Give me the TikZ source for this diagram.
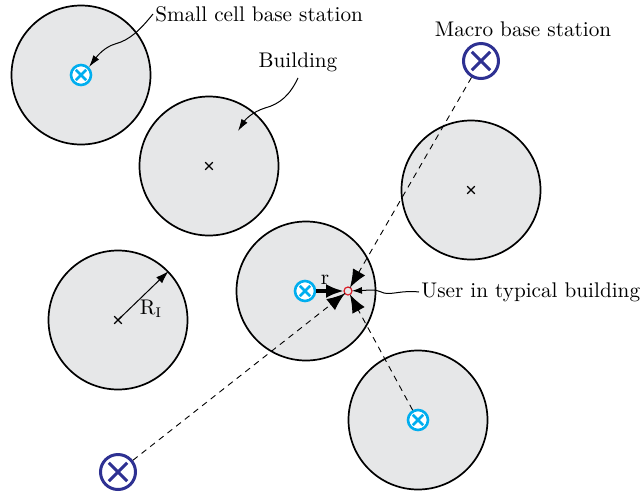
\documentclass[tikz,border=0pt]{standalone}
\usetikzlibrary{arrows.meta,calc,shapes.misc}
\definecolor{bgray}{RGB}{230,231,232}
\definecolor{scblue}{RGB}{0,174,239}
\definecolor{mblue}{RGB}{46,49,146}
\definecolor{ured}{RGB}{220,30,40}
\begin{document}
\begin{tikzpicture}[x=0.5pt,y=-0.5pt,
  bldg/.style={circle,draw=black,fill=bgray,line width=0.85pt,minimum size=69.5pt,inner sep=0pt},
  ctrx/.style={cross out,draw=black,line width=0.6pt,minimum size=3.2pt,inner sep=0pt},
  smallbs/.style={circle,draw=scblue,fill=white,line width=1.3pt,minimum size=10pt,inner sep=0pt,
    path picture={\draw[scblue,line width=1.3pt]
      ($(path picture bounding box.center)+(-2.6pt,-2.6pt)$) -- ($(path picture bounding box.center)+(2.6pt,2.6pt)$)
      ($(path picture bounding box.center)+(-2.6pt,2.6pt)$) -- ($(path picture bounding box.center)+(2.6pt,-2.6pt)$);}},
  macrobs/.style={circle,draw=mblue,fill=white,line width=1.5pt,minimum size=17.5pt,inner sep=0pt,
    path picture={\draw[mblue,line width=1.5pt]
      ($(path picture bounding box.center)+(-4.6pt,-4.6pt)$) -- ($(path picture bounding box.center)+(4.6pt,4.6pt)$)
      ($(path picture bounding box.center)+(-4.6pt,4.6pt)$) -- ($(path picture bounding box.center)+(4.6pt,-4.6pt)$);}},
  userpt/.style={circle,draw=ured,line width=0.6pt,minimum size=4pt,inner sep=0pt,outer sep=0pt},
  link/.style={dashed,line width=0.45pt,dash pattern=on 3pt off 2.5pt},
  bigtip/.style={-{Latex[length=9pt,width=7pt]},line width=0.5pt},
  leader/.style={line width=0.5pt,-{Latex[length=6pt,width=3.6pt]}},
  lbl/.style={font=\fontsize{10.6}{12}\selectfont,inner sep=1pt}
]
\useasboundingbox (0,0) rectangle (643,494);

% buildings
\node[bldg] (b1) at (81,75) {};
\node[bldg] (b2) at (209,166) {};
\node[bldg] (b3) at (471,190) {};
\node[bldg] (b4) at (118,320) {};
\node[bldg] (b5) at (306,291) {};
\node[bldg] (b6) at (418,420) {};

% building centre marks
\node[ctrx] (x2) at (209,166) {};
\node[ctrx] (x3) at (471,190) {};
\node[ctrx] (x4) at (118,320) {};

% user
\node[userpt] (u) at (348,291) {};

% base stations
\node[macrobs] (m1) at (481,61) {};
\node[macrobs] (m2) at (118,472) {};
\node[smallbs] (s1) at (81,75) {};
\node[smallbs] (s2) at (305,291) {};
\node[smallbs] (s3) at (418,420) {};

% dashed links
\draw[link] (m1) -- (u);
\draw[link] (m2) -- (u);
\draw[link] (s3) -- (u);

% arrowheads at the user
\draw[bigtip] ($(u)!11pt!(m1)$) -- (u);
\draw[bigtip] ($(u)!11pt!(m2)$) -- (u);
\draw[bigtip] ($(u)!11pt!(s3)$) -- (u);
\draw[bigtip,line width=2pt] (s2) -- (u);
\node[lbl] (rl) at (325,280) {r};

% radius arrow
\draw[line width=0.5pt,-{Latex[length=6.5pt,width=4.2pt]}] (x4.center) -- (b4.44);
\node[lbl] (rI) at (151,309) {R$_{\mathrm{I}}$};

% labels
\node[lbl,anchor=west] (tsc) at (153,14) {Small cell base station};
\node[lbl] (tb) at (298,62) {Building};
\node[lbl] (tm) at (523,29) {Macro base station};
\node[lbl,anchor=west] (tu) at (419,292) {User in typical building};

% leaders
\draw[leader] (tsc.west) .. controls (140,30) and (130,40) .. (115,44) .. controls (105,47) and (98,55) .. (89,67);
\draw[leader] (tb.south) ++(0,4) .. controls (290,95) and (280,104) .. (265,108) .. controls (252,112) and (245,120) .. (238,131);
\draw[line width=0.5pt,-{Latex[length=5pt,width=3.5pt]}] (tu.west) .. controls (402,290) and (392,295) .. (384,293) .. controls (380,292) and (378,290) .. (372,290) -- (u);
\end{tikzpicture}
\end{document}
